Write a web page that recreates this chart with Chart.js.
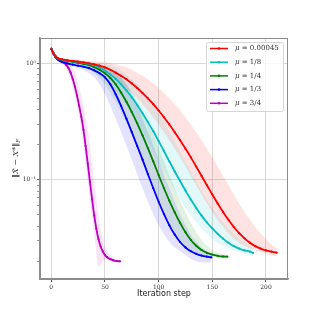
<!DOCTYPE html>
<html>
<head>
<meta charset="utf-8">
<script src="https://cdn.jsdelivr.net/npm/chart.js@4.4.1/dist/chart.umd.min.js"></script>
<style>
  html, body { margin: 0; padding: 0; background: #fff; }
  #wrap { width: 320px; height: 320px; }
</style>
</head>
<body>
<div id="wrap"><canvas id="c" width="320" height="320"></canvas></div>
<script>
// error ||X^ - X*||_F per iteration: mean curve plus upper/lower edge of the spread band
const labels = ["0.00045", "1/8", "1/4", "1/3", "3/4"];

const stepsRed = [0, 2, 4, 6, 8, 10, 15, 20, 25, 30, 35, 40, 45, 50, 55, 60, 65, 70, 75, 80, 85, 90, 95, 100, 105, 110, 115, 120, 125, 130, 135, 140, 145, 150, 155, 160, 165, 170, 175, 180, 185, 190, 195, 200, 205, 210];
const meanRed = [1.33, 1.22, 1.15, 1.11, 1.09, 1.08, 1.06, 1.047, 1.035, 1.02, 1.0, 0.98, 0.955, 0.923, 0.881, 0.832, 0.782, 0.730, 0.673, 0.614, 0.556, 0.500, 0.446, 0.394, 0.344, 0.299, 0.256, 0.219, 0.185, 0.156, 0.130, 0.108, 0.090, 0.0748, 0.0627, 0.0531, 0.0454, 0.0394, 0.0349, 0.0315, 0.0289, 0.0270, 0.0257, 0.0248, 0.0242, 0.0237];
const hiRed = [1.33, 1.23, 1.17, 1.13, 1.11, 1.10, 1.09, 1.08, 1.07, 1.06, 1.05, 1.04, 1.03, 1.02, 1.0, 0.98, 0.955, 0.923, 0.881, 0.832, 0.782, 0.730, 0.673, 0.614, 0.556, 0.500, 0.446, 0.394, 0.344, 0.299, 0.256, 0.219, 0.185, 0.156, 0.130, 0.108, 0.090, 0.0748, 0.0627, 0.0531, 0.0454, 0.0394, 0.0349, 0.031, 0.028, 0.0255];
const loRed = [1.33, 1.21, 1.13, 1.09, 1.07, 1.06, 1.035, 1.02, 1.0, 0.98, 0.955, 0.923, 0.881, 0.832, 0.782, 0.730, 0.673, 0.614, 0.556, 0.500, 0.446, 0.394, 0.344, 0.299, 0.256, 0.219, 0.185, 0.156, 0.130, 0.108, 0.090, 0.0748, 0.0627, 0.0531, 0.0454, 0.0394, 0.0349, 0.0315, 0.0289, 0.0270, 0.0257, 0.0248, 0.0240, 0.0232, 0.0226, 0.022];

const stepsCyan = [0, 2, 4, 6, 8, 10, 15, 20, 25, 30, 35, 40, 45, 50, 55, 60, 65, 70, 75, 80, 85, 90, 95, 100, 105, 110, 115, 120, 125, 130, 135, 140, 145, 150, 155, 160, 165, 170, 175, 180, 185, 188];
const meanCyan = [1.33, 1.22, 1.15, 1.11, 1.09, 1.075, 1.055, 1.04, 1.025, 1.01, 0.99, 0.966, 0.923, 0.867, 0.804, 0.735, 0.661, 0.585, 0.511, 0.440, 0.373, 0.313, 0.261, 0.215, 0.176, 0.144, 0.118, 0.0975, 0.0809, 0.0678, 0.0574, 0.0493, 0.0431, 0.0383, 0.0344, 0.0313, 0.0288, 0.0270, 0.0257, 0.0248, 0.0242, 0.0236];
const hiCyan = [1.33, 1.23, 1.17, 1.13, 1.11, 1.10, 1.085, 1.075, 1.06, 1.05, 1.035, 1.02, 1.0, 0.985, 0.966, 0.923, 0.867, 0.804, 0.735, 0.661, 0.585, 0.511, 0.440, 0.373, 0.313, 0.261, 0.215, 0.176, 0.144, 0.118, 0.0975, 0.0809, 0.0678, 0.0574, 0.0493, 0.0431, 0.0383, 0.0344, 0.0313, 0.029, 0.027, 0.0258];
const loCyan = [1.33, 1.21, 1.13, 1.09, 1.07, 1.05, 1.03, 1.01, 0.99, 0.966, 0.923, 0.867, 0.804, 0.735, 0.661, 0.585, 0.511, 0.440, 0.373, 0.313, 0.261, 0.215, 0.176, 0.144, 0.118, 0.0975, 0.0809, 0.0678, 0.0574, 0.0493, 0.0431, 0.0383, 0.0344, 0.0313, 0.0288, 0.0270, 0.0257, 0.0248, 0.0240, 0.0232, 0.0226, 0.0222];

const stepsGreen = [0, 2, 4, 6, 8, 10, 15, 20, 25, 30, 35, 40, 45, 50, 55, 60, 65, 70, 75, 80, 85, 90, 95, 100, 105, 110, 115, 120, 125, 130, 135, 140, 145, 150, 155, 160, 164];
const meanGreen = [1.33, 1.22, 1.15, 1.10, 1.08, 1.065, 1.045, 1.03, 1.01, 0.99, 0.965, 0.927, 0.881, 0.822, 0.750, 0.661, 0.562, 0.468, 0.382, 0.306, 0.241, 0.187, 0.144, 0.110, 0.0847, 0.0661, 0.0527, 0.0427, 0.0355, 0.0305, 0.0272, 0.0250, 0.0236, 0.0228, 0.0223, 0.0220, 0.0219];
const hiGreen = [1.33, 1.23, 1.16, 1.12, 1.10, 1.085, 1.07, 1.055, 1.04, 1.025, 1.01, 0.99, 0.965, 0.927, 0.881, 0.822, 0.750, 0.661, 0.562, 0.468, 0.382, 0.306, 0.241, 0.187, 0.144, 0.110, 0.0847, 0.0661, 0.0527, 0.0427, 0.0355, 0.0305, 0.0272, 0.0250, 0.0238, 0.0230, 0.0226];
const loGreen = [1.33, 1.21, 1.14, 1.09, 1.065, 1.05, 1.02, 1.0, 0.975, 0.945, 0.90, 0.822, 0.750, 0.661, 0.562, 0.468, 0.382, 0.306, 0.241, 0.187, 0.144, 0.110, 0.0847, 0.0661, 0.0527, 0.0427, 0.0355, 0.0305, 0.0272, 0.0250, 0.0236, 0.0228, 0.0222, 0.0218, 0.0215, 0.0213, 0.0212];

const stepsBlue = [0, 2, 4, 6, 8, 10, 15, 20, 25, 30, 35, 40, 45, 50, 55, 60, 65, 70, 75, 80, 85, 90, 95, 100, 105, 110, 115, 120, 125, 130, 135, 140, 145, 149];
const meanBlue = [1.33, 1.21, 1.13, 1.08, 1.05, 1.03, 1.0, 0.975, 0.955, 0.935, 0.91, 0.871, 0.822, 0.759, 0.661, 0.543, 0.432, 0.335, 0.257, 0.196, 0.149, 0.112, 0.0847, 0.0649, 0.0507, 0.0407, 0.0339, 0.0293, 0.0263, 0.0244, 0.0232, 0.0224, 0.0219, 0.0216];
const hiBlue = [1.33, 1.22, 1.15, 1.11, 1.085, 1.07, 1.05, 1.035, 1.02, 1.0, 0.975, 0.955, 0.935, 0.91, 0.871, 0.822, 0.759, 0.661, 0.543, 0.432, 0.335, 0.257, 0.196, 0.149, 0.112, 0.0847, 0.0649, 0.0507, 0.0407, 0.0339, 0.0293, 0.0263, 0.0244, 0.0232];
const loBlue = [1.33, 1.20, 1.11, 1.05, 1.02, 0.995, 0.955, 0.935, 0.91, 0.871, 0.822, 0.759, 0.661, 0.543, 0.432, 0.335, 0.257, 0.196, 0.149, 0.112, 0.0847, 0.0649, 0.0507, 0.0407, 0.0339, 0.0293, 0.0263, 0.0244, 0.0225, 0.021, 0.020, 0.0196, 0.0195, 0.0195];

const stepsMag = [0, 2, 4, 6, 8, 10, 12, 14, 16, 18, 20, 22, 24, 26, 28, 30, 32, 34, 36, 38, 40, 42, 44, 46, 48, 50, 52, 55, 58, 61, 64];
const meanMag = [1.33, 1.216, 1.135, 1.084, 1.052, 1.028, 1.005, 0.966, 0.912, 0.832, 0.733, 0.631, 0.527, 0.432, 0.347, 0.269, 0.195, 0.138, 0.0966, 0.0684, 0.0495, 0.0380, 0.0309, 0.0268, 0.0243, 0.0226, 0.0217, 0.0209, 0.0204, 0.0201, 0.0200];
const hiMag = [1.33, 1.23, 1.16, 1.11, 1.08, 1.06, 1.045, 1.03, 1.005, 0.966, 0.912, 0.832, 0.733, 0.631, 0.527, 0.432, 0.347, 0.269, 0.195, 0.138, 0.0966, 0.0684, 0.0495, 0.0380, 0.0309, 0.0268, 0.0243, 0.0226, 0.0212, 0.0205, 0.0202];
const loMag = [1.33, 1.20, 1.11, 1.06, 1.03, 1.005, 0.966, 0.912, 0.832, 0.733, 0.631, 0.527, 0.432, 0.347, 0.269, 0.195, 0.138, 0.0966, 0.0684, 0.0495, 0.035, 0.0235, 0.0178, 0.0185, 0.020, 0.0208, 0.0207, 0.0204, 0.0201, 0.0199, 0.0198];

const xTicks = [0, 50, 100, 150, 200];
const yMajor = [0.1, 1];
const yMinor = [0.02, 0.03, 0.04, 0.05, 0.06, 0.07, 0.08, 0.09, 0.2, 0.3, 0.4, 0.5, 0.6, 0.7, 0.8, 0.9];

const series = [
  { steps: stepsRed, mean: meanRed, hi: hiRed, lo: loRed, color: "#ff0000", band: "rgba(255,0,0,0.11)" },
  { steps: stepsCyan, mean: meanCyan, hi: hiCyan, lo: loCyan, color: "#00bfbf", band: "rgba(0,191,191,0.11)" },
  { steps: stepsGreen, mean: meanGreen, hi: hiGreen, lo: loGreen, color: "#008000", band: "rgba(0,128,0,0.11)" },
  { steps: stepsBlue, mean: meanBlue, hi: hiBlue, lo: loBlue, color: "#0000ff", band: "rgba(0,0,255,0.11)" },
  { steps: stepsMag, mean: meanMag, hi: hiMag, lo: loMag, color: "#bf00bf", band: "rgba(191,0,191,0.11)" },
];

const pts = (xs, ys) => xs.map((x, i) => ({ x, y: ys[i] }));

// lines first so they are drawn on top of the bands
const datasets = series.map((s, i) => ({
  label: labels[i],
  data: pts(s.steps, s.mean),
  borderColor: s.color,
  backgroundColor: s.color,
  borderWidth: 1.8,
  pointRadius: 1.1,
  pointBorderWidth: 0,
  cubicInterpolationMode: "monotone",
  fill: false,
}));
series.forEach((s) => {
  datasets.push({
    data: pts(s.steps, s.lo), borderWidth: 0, pointRadius: 0,
    cubicInterpolationMode: "monotone", fill: false,
  });
  datasets.push({
    data: pts(s.steps, s.hi), borderWidth: 0, pointRadius: 0,
    cubicInterpolationMode: "monotone", fill: "-1", backgroundColor: s.band,
  });
});

const serif = "'DejaVu Serif', serif";

const decor = {
  id: "decor",
  afterDraw(chart) {
    const { ctx, chartArea: a } = chart;
    ctx.save();
    // frame
    ctx.strokeStyle = "#8c8c8c";
    ctx.lineWidth = 1;
    ctx.strokeRect(a.left + 0.5, a.top + 0.5, a.right - a.left - 1, a.bottom - a.top);

    // legend
    const bx = 206, by = 42, bw = 77, bh = 69;
    ctx.fillStyle = "rgba(255,255,255,0.8)";
    ctx.strokeStyle = "#d6d6d6";
    ctx.beginPath();
    ctx.roundRect(bx + 0.5, by + 0.5, bw, bh, 2);
    ctx.fill();
    ctx.stroke();
    ctx.textBaseline = "middle";
    labels.forEach((lbl, i) => {
      const y = 48.5 + i * 13.7;
      const c = series[i].color;
      ctx.strokeStyle = c;
      ctx.lineWidth = 1.5;
      ctx.beginPath();
      ctx.moveTo(210, y);
      ctx.lineTo(228, y);
      ctx.stroke();
      ctx.fillStyle = c;
      ctx.beginPath();
      ctx.arc(219, y, 1.3, 0, Math.PI * 2);
      ctx.fill();
      ctx.fillStyle = "#333";
      ctx.font = "italic 7px " + serif;
      ctx.fillText("μ", 235, y);
      const w = ctx.measureText("μ").width;
      ctx.font = "7px " + serif;
      ctx.fillText(" = " + lbl, 235 + w, y);
    });

    // y axis title with subscript F
    ctx.translate(16, (a.top + a.bottom) / 2);
    ctx.rotate(-Math.PI / 2);
    ctx.fillStyle = "#333";
    ctx.font = "italic 8px " + serif;
    const main = "‖X\u0302 − X*‖";
    const wm = ctx.measureText(main).width;
    ctx.font = "italic 5.5px " + serif;
    const wf = ctx.measureText("F").width;
    const x0 = -(wm + wf) / 2;
    ctx.font = "italic 8px " + serif;
    ctx.fillText(main, x0, 0);
    ctx.font = "italic 5.5px " + serif;
    ctx.fillText("F", x0 + wm, 3);
    ctx.restore();
  },
};

new Chart(document.getElementById("c"), {
  type: "line",
  data: { datasets },
  options: {
    responsive: false,
    animation: false,
    events: [],
    layout: { padding: { top: 38, right: 32, left: 0, bottom: 0 } },
    plugins: { legend: { display: false }, tooltip: { enabled: false } },
    scales: {
      x: {
        type: "linear",
        min: -10.5,
        max: 220.5,
        afterBuildTicks: (s) => { s.ticks = xTicks.map((v) => ({ value: v })); },
        afterFit: (s) => { s.height = 41; },
        ticks: { color: "#333", font: { family: serif, size: 6 }, padding: 2, maxRotation: 0 },
        grid: { color: "#d9d9d9", lineWidth: 1, tickLength: 3, tickColor: "#555" },
        border: { color: "#8c8c8c", width: 1.5 },
        title: {
          display: true, text: "Iteration step", color: "#222",
          font: { family: "'DejaVu Sans', sans-serif", size: 8 },
          padding: { top: 0, bottom: 21 },
        },
      },
      y: {
        type: "logarithmic",
        min: 0.0141,
        max: 1.65,
        afterBuildTicks: (s) => {
          s.ticks = yMinor.concat(yMajor).sort((p, q) => p - q)
            .map((v) => ({ value: v, major: yMajor.includes(v) }));
        },
        afterFit: (s) => { s.width = 40; },
        ticks: {
          autoSkip: false,
          color: "#333",
          font: { family: serif, size: 6 },
          padding: 1,
          callback: (v) => (v === 1 ? "10⁰" : v === 0.1 ? "10⁻¹" : ""),
        },
        grid: {
          color: (c) => (c.tick && yMajor.includes(c.tick.value) ? "#d9d9d9" : "rgba(0,0,0,0)"),
          tickLength: 3,
          tickColor: "#555",
          tickWidth: (c) => (c.tick && yMajor.includes(c.tick.value) ? 1 : 0.6),
        },
        border: { color: "#8c8c8c", width: 1.5 },
      },
    },
  },
  plugins: [decor],
});
</script>
</body>
</html>
